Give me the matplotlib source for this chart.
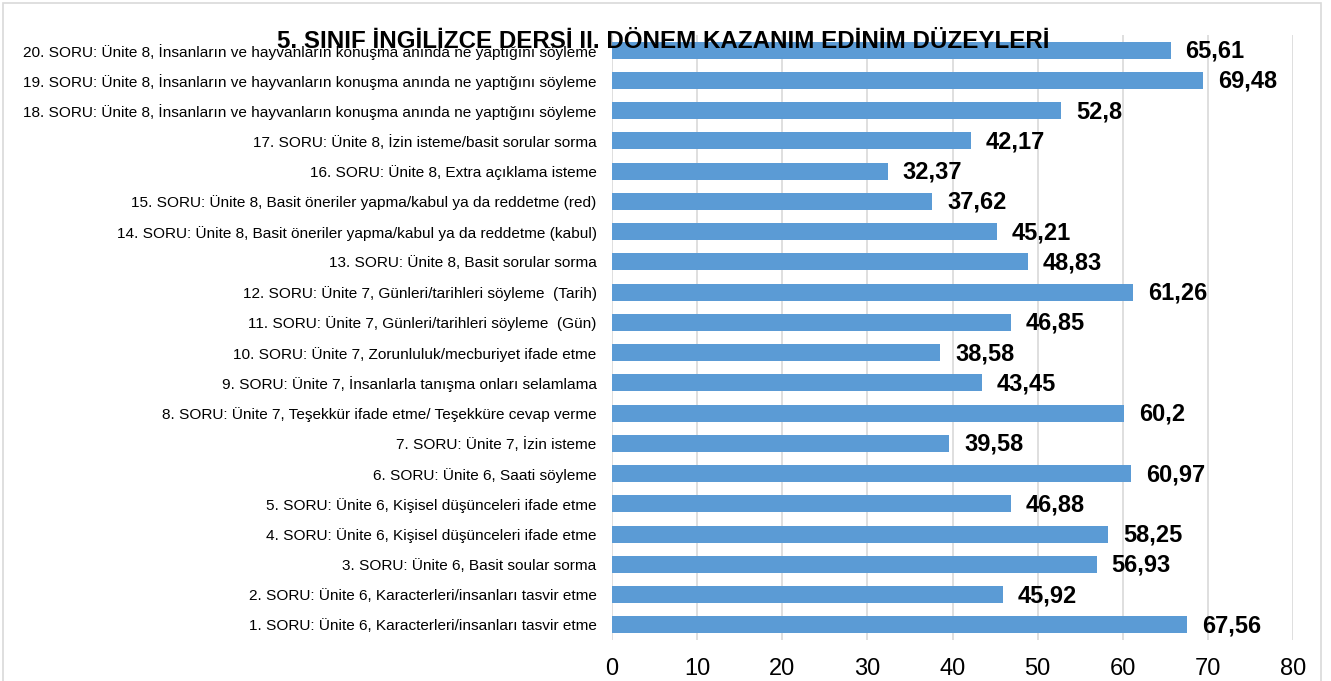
import matplotlib
matplotlib.use("Agg")
import matplotlib.pyplot as plt
from matplotlib.patches import Rectangle
from matplotlib import font_manager

labels = [
    "1. SORU: Ünite 6, Karacterleri/insanları tasvir etme",
    "2. SORU: Ünite 6, Karacterleri/insanları tasvir etme",
    "3. SORU: Ünite 6, Basit soular sorma",
    "4. SORU: Ünite 6, Kişisel düşünceleri ifade etme",
    "5. SORU: Ünite 6, Kişisel düşünceleri ifade etme",
    "6. SORU: Ünite 6, Saati söyleme",
    "7. SORU: Ünite 7, İzin isteme",
    "8. SORU: Ünite 7, Teşekkür ifade etme/ Teşekküre cevap verme",
    "9. SORU: Ünite 7, İnsanlarla tanışma onları selamlama",
    "10. SORU: Ünite 7, Zorunluluk/mecburiyet ifade etme",
    "11. SORU: Ünite 7, Günleri/tarihleri söyleme  (Gün)",
    "12. SORU: Ünite 7, Günleri/tarihleri söyleme  (Tarih)",
    "13. SORU: Ünite 8, Basit sorular sorma",
    "14. SORU: Ünite 8, Basit öneriler yapma/kabul ya da reddetme (kabul)",
    "15. SORU: Ünite 8, Basit öneriler yapma/kabul ya da reddetme (red)",
    "16. SORU: Ünite 8, Extra açıklama isteme",
    "17. SORU: Ünite 8, İzin isteme/basit sorular sorma",
    "18. SORU: Ünite 8, İnsanların ve hayvanların konuşma anında ne yaptığını söyleme",
    "19. SORU: Ünite 8, İnsanların ve hayvanların konuşma anında ne yaptığını söyleme",
    "20. SORU: Ünite 8, İnsanların ve hayvanların konuşma anında ne yaptığını söyleme",
]
values = [67.56, 45.92, 56.93, 58.25, 46.88, 60.97, 39.58, 60.2, 43.45, 38.58,
          46.85, 61.26, 48.83, 45.21, 37.62, 32.37, 42.17, 52.8, 69.48, 65.61]
value_texts = ["67,56", "45,92", "56,93", "58,25", "46,88", "60,97", "39,58", "60,2",
               "43,45", "38,58", "46,85", "61,26", "48,83", "45,21", "37,62", "32,37",
               "42,17", "52,8", "69,48", "65,61"]
xticks = [0, 10, 20, 30, 40, 50, 60, 70, 80]
title = "5. SINIF İNGİLİZCE DERSİ II. DÖNEM KAZANIM EDİNİM DÜZEYLERİ"

plt.rcParams['font.family'] = ['Liberation Sans', 'DejaVu Sans']

# condensed family for category labels, if available
try:
    font_manager.findfont(font_manager.FontProperties(family="Liberation Sans Narrow"),
                          fallback_to_default=False)
    label_family = ['Liberation Sans Narrow', 'DejaVu Sans']
    label_size = 13.5
except Exception:
    label_family = ['Liberation Sans', 'DejaVu Sans']
    label_size = 11.1

W, H = 1331, 681
fig = plt.figure(figsize=(W / 100, H / 100), dpi=100)
ax = fig.add_axes([612 / W, 1 - 640 / H, (1293 - 612) / W, (640 - 35) / H])

ypos = list(range(len(values)))
ax.barh(ypos, values, height=0.56, color="#5B9BD5", zorder=3)
for y, v, t in zip(ypos, values, value_texts):
    ax.annotate(t, (v, y), xytext=(15, -1), textcoords="offset pixels",
                ha="left", va="center", fontsize=17, fontweight="bold",
                color="black", zorder=4)

ax.set_xlim(0, 80)
ax.set_ylim(-0.5, len(values) - 0.5)
ax.set_xticks(xticks)
ax.set_xticklabels([str(x) for x in xticks], fontsize=17)
ax.set_yticks(ypos)
ax.set_yticklabels(labels, fontsize=label_size, family=label_family)
ax.tick_params(axis="both", length=0)
ax.tick_params(axis="y", pad=11)
ax.tick_params(axis="x", pad=13)
ax.grid(axis="x", color="#D9D9D9", linewidth=1.2, zorder=0)
for s in ax.spines.values():
    s.set_visible(False)

fig.text(663 / W, 1 - 42 / H, title, ha="center", va="center",
         fontsize=17.4, fontweight="bold", zorder=10)

fig.patches.append(Rectangle((3 / W, -0.05), 1318 / W, 1.05 - 3 / H,
                             transform=fig.transFigure, fill=False,
                             edgecolor="#D9D9D9", linewidth=1.2))

fig.savefig("out.png", dpi=100)
